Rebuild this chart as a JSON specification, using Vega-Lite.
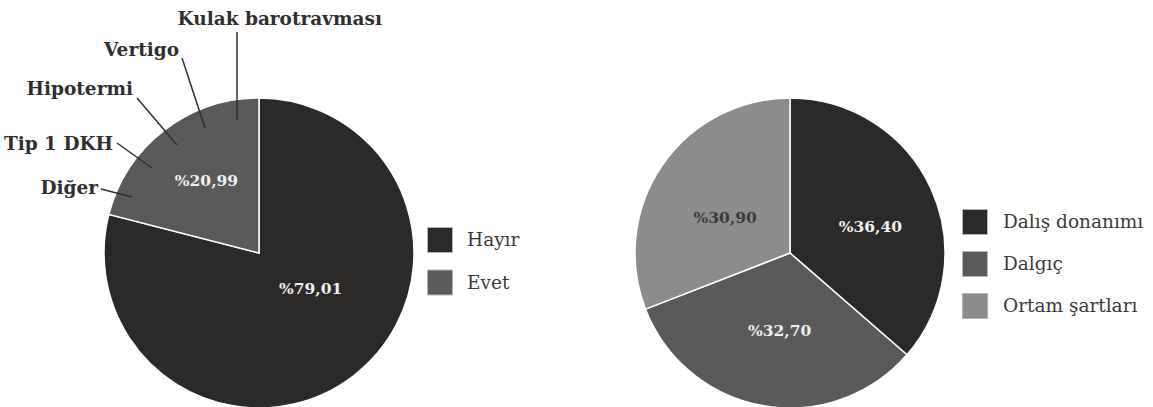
{
  "$schema": "https://vega.github.io/schema/vega-lite/v6.json",
  "width": 1153,
  "height": 407,
  "padding": 0,
  "autosize": {"type": "none"},
  "background": "white",
  "config": {"view": {"stroke": null}, "font": "DejaVu Serif"},
  "datasets": {
    "sol": [
      {"kategori": "Hayır", "deger": 79.01, "sira": 1, "etiket": "%79,01"},
      {"kategori": "Evet", "deger": 20.99, "sira": 2, "etiket": "%20,99"}
    ],
    "sag": [
      {"kategori": "Dalış donanımı", "deger": 36.40, "sira": 1, "etiket": "%36,40"},
      {"kategori": "Dalgıç", "deger": 32.70, "sira": 2, "etiket": "%32,70"},
      {"kategori": "Ortam şartları", "deger": 30.90, "sira": 3, "etiket": "%30,90"}
    ],
    "alt_basliklar": [
      {"baslik": "Kulak barotravması", "tx": 382, "ty": 25, "x1": 237, "y1": 32, "x2": 237, "y2": 120},
      {"baslik": "Vertigo", "tx": 179, "ty": 56, "x1": 182, "y1": 58, "x2": 205, "y2": 128},
      {"baslik": "Hipotermi", "tx": 133, "ty": 95, "x1": 137, "y1": 98, "x2": 177, "y2": 145},
      {"baslik": "Tip 1 DKH", "tx": 113, "ty": 150, "x1": 117, "y1": 143, "x2": 152, "y2": 168},
      {"baslik": "Diğer", "tx": 98, "ty": 194, "x1": 101, "y1": 189, "x2": 132, "y2": 197}
    ]
  },
  "layer": [
    {
      "data": {"name": "sol"},
      "encoding": {
        "x": {"datum": 259, "type": "quantitative", "scale": {"domain": [0, 1153], "nice": false, "zero": false}, "axis": null},
        "y": {"datum": 253, "type": "quantitative", "scale": {"domain": [0, 407], "nice": false, "zero": false, "reverse": true}, "axis": null},
        "theta": {"field": "deger", "type": "quantitative", "stack": true, "scale": {"domain": [0, 100]}},
        "order": {"field": "sira", "type": "quantitative"}
      },
      "layer": [
        {
          "mark": {"type": "arc", "outerRadius": 155, "stroke": "#ffffff", "strokeWidth": 1.5},
          "encoding": {
            "color": {
              "field": "kategori", "type": "nominal",
              "scale": {"domain": ["Hayır", "Evet"], "range": ["#2b2a29", "#5a5a5a"]},
              "legend": {"orient": "none", "legendX": 427, "legendY": 227, "title": null, "symbolType": "square", "symbolSize": 625, "symbolStrokeColor": "#b5b5b5", "symbolStrokeWidth": 1, "labelFont": "DejaVu Serif", "labelFontSize": 18.5, "labelColor": "#3a3a3a", "labelOffset": 14, "rowPadding": 12.5, "padding": 0, "labelLimit": 300}
            }
          }
        },
        {
          "mark": {"type": "text", "radius": 63, "dx": 13, "dy": -14, "font": "DejaVu Serif", "fontWeight": "bold", "fontSize": 15.5, "fill": "#f0f0f0"},
          "encoding": {
            "detail": {"field": "kategori"},
            "text": {"condition": {"test": "datum.kategori === 'Hayır'", "field": "etiket", "type": "nominal"}, "value": ""}
          }
        },
        {
          "mark": {"type": "text", "radius": 89, "dx": 2, "dy": -2, "font": "DejaVu Serif", "fontWeight": "bold", "fontSize": 15.5, "fill": "#f0f0f0"},
          "encoding": {
            "detail": {"field": "kategori"},
            "text": {"condition": {"test": "datum.kategori === 'Evet'", "field": "etiket", "type": "nominal"}, "value": ""}
          }
        }
      ]
    },
    {
      "data": {"name": "sag"},
      "encoding": {
        "x": {"datum": 790, "type": "quantitative", "scale": {"domain": [0, 1153], "nice": false, "zero": false}, "axis": null},
        "y": {"datum": 253, "type": "quantitative", "scale": {"domain": [0, 407], "nice": false, "zero": false, "reverse": true}, "axis": null},
        "theta": {"field": "deger", "type": "quantitative", "stack": true, "scale": {"domain": [0, 100]}},
        "order": {"field": "sira", "type": "quantitative"}
      },
      "layer": [
        {
          "mark": {"type": "arc", "outerRadius": 155, "stroke": "#ffffff", "strokeWidth": 1.5},
          "encoding": {
            "color": {
              "field": "kategori", "type": "nominal",
              "scale": {"domain": ["Dalış donanımı", "Dalgıç", "Ortam şartları"], "range": ["#2b2a29", "#5a5a5a", "#8c8c8c"]},
              "legend": {"orient": "none", "legendX": 962, "legendY": 209, "title": null, "symbolType": "square", "symbolSize": 625, "symbolStrokeColor": "#b5b5b5", "symbolStrokeWidth": 1, "labelFont": "DejaVu Serif", "labelFontSize": 18.5, "labelColor": "#3a3a3a", "labelOffset": 15, "rowPadding": 12, "padding": 0, "labelLimit": 300}
            }
          }
        },
        {
          "mark": {"type": "text", "radius": 84, "dx": 4, "dy": 9, "font": "DejaVu Serif", "fontWeight": "bold", "fontSize": 15.5, "fill": "#f0f0f0"},
          "encoding": {
            "detail": {"field": "kategori"},
            "text": {"condition": {"test": "datum.kategori === 'Dalış donanımı'", "field": "etiket", "type": "nominal"}, "value": ""}
          }
        },
        {
          "mark": {"type": "text", "radius": 78, "dx": 3, "dy": 1, "font": "DejaVu Serif", "fontWeight": "bold", "fontSize": 15.5, "fill": "#f0f0f0"},
          "encoding": {
            "detail": {"field": "kategori"},
            "text": {"condition": {"test": "datum.kategori === 'Dalgıç'", "field": "etiket", "type": "nominal"}, "value": ""}
          }
        },
        {
          "mark": {"type": "text", "radius": 75, "dx": -3, "dy": 7, "font": "DejaVu Serif", "fontWeight": "bold", "fontSize": 15.5, "fill": "#3a3a3a"},
          "encoding": {
            "detail": {"field": "kategori"},
            "text": {"condition": {"test": "datum.kategori === 'Ortam şartları'", "field": "etiket", "type": "nominal"}, "value": ""}
          }
        }
      ]
    },
    {
      "data": {"name": "alt_basliklar"},
      "mark": {"type": "rule", "color": "#2f2f2f", "strokeWidth": 1.5},
      "encoding": {
        "x": {"field": "x1", "type": "quantitative", "scale": {"domain": [0, 1153], "nice": false, "zero": false}, "axis": null},
        "y": {"field": "y1", "type": "quantitative", "scale": {"domain": [0, 407], "nice": false, "zero": false, "reverse": true}, "axis": null},
        "x2": {"field": "x2"},
        "y2": {"field": "y2"}
      }
    },
    {
      "data": {"name": "alt_basliklar"},
      "mark": {"type": "text", "align": "right", "baseline": "alphabetic", "font": "DejaVu Serif", "fontWeight": "bold", "fontSize": 18.5, "fill": "#2f2f2f"},
      "encoding": {
        "x": {"field": "tx", "type": "quantitative", "scale": {"domain": [0, 1153], "nice": false, "zero": false}, "axis": null},
        "y": {"field": "ty", "type": "quantitative", "scale": {"domain": [0, 407], "nice": false, "zero": false, "reverse": true}, "axis": null},
        "text": {"field": "baslik", "type": "nominal"}
      }
    }
  ],
  "resolve": {"scale": {"color": "independent"}}
}
